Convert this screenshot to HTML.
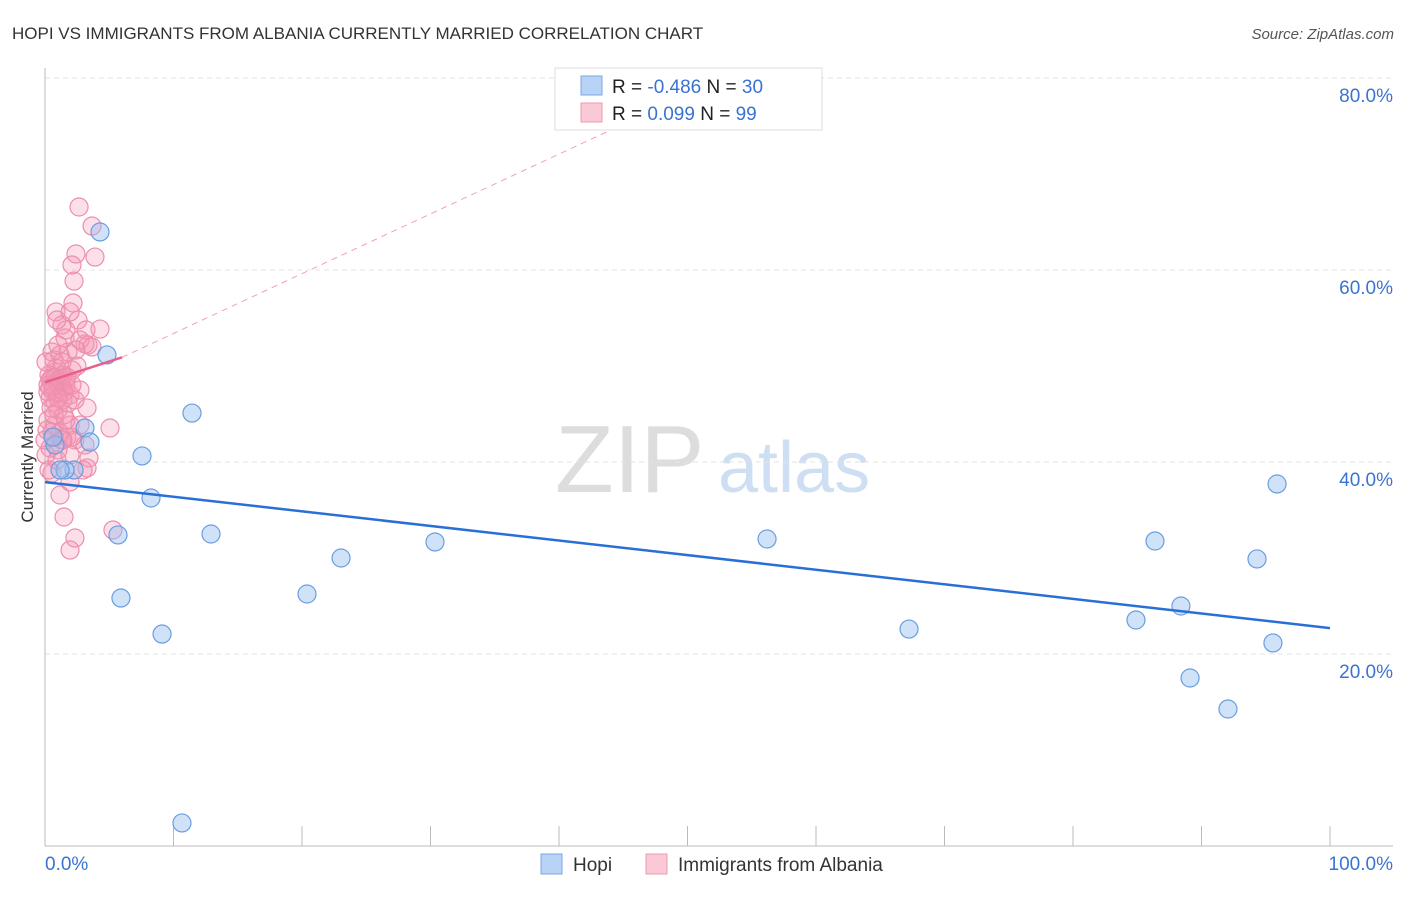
<!DOCTYPE html>
<html><head><meta charset="utf-8"><style>
body{margin:0;background:#fff;font-family:"Liberation Sans",sans-serif}
svg text{font-family:"Liberation Sans",sans-serif}
</style></head><body>
<svg id="chart" width="1406" height="892" xmlns="http://www.w3.org/2000/svg">
<text x="12" y="39" font-size="17" fill="#333">HOPI VS IMMIGRANTS FROM ALBANIA CURRENTLY MARRIED CORRELATION CHART</text>
<text x="1394" y="39" font-size="15" fill="#555" text-anchor="end" font-style="italic">Source: ZipAtlas.com</text>
<text transform="translate(33,457) rotate(-90)" font-size="17" fill="#333" text-anchor="middle">Currently Married</text>
<g><text x="555" y="492" font-size="96" fill="#ddd" font-family="Liberation Serif">ZIP</text><text x="718" y="492" font-size="72" fill="#cfdff3">atlas</text></g>
<g id="grid"></g><g id="axes"></g><g id="pts"></g><g id="lines"></g>
<g>
<rect x="555" y="68" width="267" height="62" fill="#fff" stroke="#ddd"/>
<rect x="581" y="76" width="21" height="19" fill="#b8d3f5" stroke="#7aa8e6"/>
<rect x="581" y="103" width="21" height="19" fill="#fbc8d6" stroke="#ec9ab3"/>
<text x="612" y="93" font-size="19" fill="#222">R = <tspan fill="#3a73d0">-0.486</tspan>   N = <tspan fill="#3a73d0">30</tspan></text>
<text x="612" y="120" font-size="19" fill="#222">R =   <tspan fill="#3a73d0">0.099</tspan>   N = <tspan fill="#3a73d0">99</tspan></text>
</g>
<g>
<rect x="541" y="854" width="21" height="20" fill="#b8d3f5" stroke="#7aa8e6"/>
<text x="573" y="871" font-size="19" fill="#333">Hopi</text>
<rect x="646" y="854" width="21" height="20" fill="#fbc8d6" stroke="#ec9ab3"/>
<text x="678" y="871" font-size="19" fill="#333">Immigrants from Albania</text>
</g>
</svg>
<script>
const yTicks=[20,40,60,80];
const yTickLabels=["20.0%","40.0%","60.0%","80.0%"];
const xLabels=["0.0%","100.0%"];
const hopiPx=[[100,232],[107,355],[192,413],[142,456],[85,428],[74,470],[65,470],[55,445],[151,498],[118,535],[211,534],[341,558],[435,542],[121,598],[307,594],[162,634],[182,823],[767,539],[909,629],[1155,541],[1136,620],[1181,606],[1190,678],[1228,709],[1257,559],[1273,643],[1277,484],[53,437],[90,442],[60,470]];
const albPx=[[79,207],[92,226],[95,257],[76,254],[72,265],[74,281],[73,303],[56,312],[100,329],[85,344],[62,325],[78,320],[65,338],[52,352],[60,355],[68,352],[72,370],[55,372],[50,380],[58,382],[62,385],[65,380],[48,385],[53,390],[57,393],[60,378],[66,387],[70,395],[50,398],[55,402],[63,400],[75,400],[80,390],[87,408],[58,410],[64,415],[48,420],[55,425],[70,425],[52,432],[60,433],[67,437],[75,440],[85,445],[50,448],[58,450],[110,428],[89,458],[87,468],[52,473],[70,482],[60,495],[64,517],[113,530],[75,538],[70,550],[54,360],[58,345],[66,330],[80,340],[88,345],[62,362],[77,366],[56,368],[49,375],[52,378],[55,378],[59,380],[61,383],[63,375],[67,377],[50,388],[53,386],[48,392],[64,392],[72,385],[68,403],[51,408],[47,430],[54,437],[62,440],[72,437],[80,425],[46,455],[57,460],[63,440],[49,470],[83,470],[66,420],[45,440],[57,320],[70,312],[86,330],[54,415],[76,350],[92,347],[46,362],[58,398],[70,455]];
// convert pixel estimates to data values (percent)
const hopiX=hopiPx.map(p=>+((p[0]-45)/12.85).toFixed(2));
const hopiY=hopiPx.map(p=>+((846-p[1])/9.6).toFixed(2));
const albX=albPx.map(p=>+((p[0]-45)/12.85).toFixed(2));
const albY=albPx.map(p=>+((846-p[1])/9.6).toFixed(2));
const hopiTrend=[[0,37.9],[100,22.7]];
const albTrend=[[0,48.3],[6,50.9]];
const albTrendExt=[[6,50.9],[50,78.3]];
const X=v=>45+v*12.85, Y=v=>846-v*9.6;
const NS="http://www.w3.org/2000/svg";
function mk(t,a,parent){const e=document.createElementNS(NS,t);for(const k in a)e.setAttribute(k,a[k]);document.getElementById(parent).appendChild(e);return e;}
yTicks.forEach((t,i)=>{
 const g=mk('line',{x1:45,x2:1393,y1:Y(t),y2:Y(t),stroke:'#e3e3e3','stroke-dasharray':'5,4'},'grid');
 
 
 const l=mk('text',{x:1393,y:Y(t)+24,'font-size':19,fill:'#3a73d0','text-anchor':'end'},'grid');
 l.textContent=yTickLabels[i];
 
 
});
let ax=mk('line',{x1:45,x2:45,y1:68,y2:846,stroke:'#bbb'},'axes');


ax=mk('line',{x1:45,x2:1393,y1:846,y2:846,stroke:'#bbb'},'axes');


for(let i=0;i<=10;i++){const t=mk('line',{x1:X(i*10),x2:X(i*10),y1:826,y2:846,stroke:'#bbb'},'axes');
 
 }
let xl=mk('text',{x:45,y:870,'font-size':19,fill:'#3a73d0'},'axes');xl.textContent=xLabels[0];


xl=mk('text',{x:1393,y:870,'font-size':19,fill:'#3a73d0','text-anchor':'end'},'axes');xl.textContent=xLabels[1];


albX.forEach((x,i)=>{const c=mk('circle',{cx:X(x),cy:Y(albY[i]),r:9,fill:'rgba(245,150,180,0.3)',stroke:'#ec8fac','stroke-width':1.2},'pts');
 
 });
hopiX.forEach((x,i)=>{const c=mk('circle',{cx:X(x),cy:Y(hopiY[i]),r:9,fill:'rgba(150,190,240,0.45)',stroke:'#6a9de0','stroke-width':1.2},'pts');
 
 });
let ln=mk('line',{x1:X(hopiTrend[0][0]),y1:Y(hopiTrend[0][1]),x2:X(hopiTrend[1][0]),y2:Y(hopiTrend[1][1]),stroke:'#2a6fd6','stroke-width':2.5},'lines');


ln=mk('line',{x1:X(albTrendExt[0][0]),y1:Y(albTrendExt[0][1]),x2:X(albTrendExt[1][0]),y2:Y(albTrendExt[1][1]),stroke:'#f0a0b8','stroke-width':1,'stroke-dasharray':'6,5'},'lines');


ln=mk('line',{x1:X(albTrend[0][0]),y1:Y(albTrend[0][1]),x2:X(albTrend[1][0]),y2:Y(albTrend[1][1]),stroke:'#e8608a','stroke-width':2.5},'lines');


</script>
</body></html>
